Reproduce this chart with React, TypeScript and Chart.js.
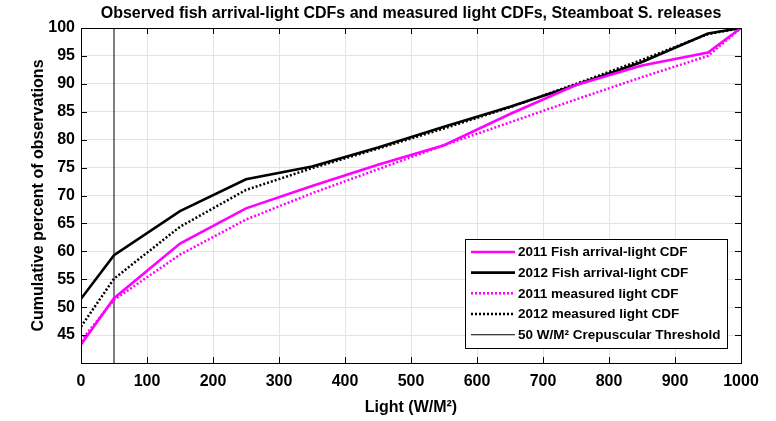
import React, { useEffect, useRef } from 'react';
import { Chart, registerables } from 'chart.js';

Chart.register(...registerables);

// ---- data ----
const lightLevels = [0, 50, 150, 250, 350, 450, 550, 650, 750, 850, 950, 1000];
const fish2011 = [43.3, 51.6, 61.4, 67.7, 71.7, 75.5, 79.0, 84.6, 89.8, 93.3, 95.6, 100];
const fish2012 = [51.5, 59.3, 67.2, 72.9, 75.2, 78.6, 82.3, 85.9, 89.8, 93.9, 99.0, 100];
const measured2011 = [44.0, 51.3, 59.4, 65.7, 70.4, 74.7, 79.0, 83.1, 87.2, 91.2, 95.0, 100];
const measured2012 = [46.5, 55.1, 64.4, 71.0, 74.9, 78.4, 82.0, 85.8, 90.0, 94.3, 98.9, 100];
const thresholdX = [50, 50];
const thresholdY = [40, 100];

const xTicks = [0, 100, 200, 300, 400, 500, 600, 700, 800, 900, 1000];
const yTicks = [40, 45, 50, 55, 60, 65, 70, 75, 80, 85, 90, 95, 100];
const yLabelHidden = [40];

const seriesLabels = [
  '2011 Fish arrival-light CDF',
  '2012 Fish arrival-light CDF',
  '2011 measured light CDF',
  '2012 measured light CDF',
  '50 W/M\u00B2 Crepuscular Threshold',
];
const titleText = 'Observed fish arrival-light CDFs and measured light CDFs, Steamboat S. releases';
const xTitle = 'Light (W/M\u00B2)';
const yTitle = 'Cumulative percent of observations';

const FONT = '"Liberation Sans", Arial, Helvetica, sans-serif';
const MAGENTA = '#ff00ff';

const toPoints = (xs: number[], ys: number[]) => xs.map((x, i) => ({ x, y: ys[i] }));

const framePlugin = {
  id: 'frameTicks',
  afterDatasetsDraw(chart: any) {
    const { ctx, chartArea, scales } = chart;
    const { left, right, top, bottom } = chartArea;
    const tl = 6;
    ctx.save();
    ctx.strokeStyle = '#000';
    ctx.lineWidth = 1;
    ctx.beginPath();
    const xs = scales.x;
    xs.ticks.forEach((t: any) => {
      const p = Math.round(xs.getPixelForValue(t.value)) + 0.5;
      ctx.moveTo(p, bottom);
      ctx.lineTo(p, bottom - tl);
      ctx.moveTo(p, top);
      ctx.lineTo(p, top + tl);
    });
    const ys = scales.y;
    ys.ticks.forEach((t: any) => {
      const p = Math.round(ys.getPixelForValue(t.value)) + 0.5;
      ctx.moveTo(left, p);
      ctx.lineTo(left + tl, p);
      ctx.moveTo(right, p);
      ctx.lineTo(right - tl, p);
    });
    ctx.stroke();
    ctx.strokeRect(Math.round(left) + 0.5, Math.round(top) + 0.5, Math.round(right - left), Math.round(bottom - top));
    ctx.restore();
  },
};

const legendPlugin = {
  id: 'boxLegend',
  afterDraw(chart: any) {
    const { ctx, chartArea } = chart;
    const items = chart.data.datasets;
    ctx.save();
    ctx.font = `bold 13.5px ${FONT}`;
    const lineLen = 44;
    const gap = 3;
    const padX = 6;
    const rowH = 20.7;
    const padY = 2.6;
    const textW = Math.max(...items.map((d: any) => ctx.measureText(d.label).width));
    const boxW = padX + lineLen + gap + textW + padX;
    const boxH = rowH * items.length + padY * 2;
    const right = Math.round(chartArea.right - 14);
    const bottom = Math.round(chartArea.bottom - 15);
    const left = Math.round(right - boxW);
    const top = Math.round(bottom - boxH);
    ctx.fillStyle = '#fff';
    ctx.fillRect(left, top, right - left, bottom - top);
    ctx.strokeStyle = '#000';
    ctx.lineWidth = 1;
    ctx.strokeRect(left + 0.5, top + 0.5, right - left, bottom - top);
    items.forEach((d: any, i: number) => {
      const y = top + padY + rowH * (i + 0.5);
      ctx.beginPath();
      ctx.strokeStyle = d.borderColor;
      ctx.lineWidth = d.borderWidth;
      ctx.setLineDash(d.borderDash || []);
      ctx.moveTo(left + padX, y);
      ctx.lineTo(left + padX + lineLen, y);
      ctx.stroke();
      ctx.setLineDash([]);
      ctx.fillStyle = '#000';
      ctx.textBaseline = 'middle';
      ctx.textAlign = 'left';
      ctx.fillText(d.label, left + padX + lineLen + gap, y + 0.5);
    });
    ctx.restore();
  },
};

export default function App() {
  const canvasRef = useRef<HTMLCanvasElement | null>(null);

  useEffect(() => {
    if (!canvasRef.current) return;
    const solid = { pointRadius: 0, tension: 0, fill: false, borderWidth: 2.6 };
    const dotted = { pointRadius: 0, tension: 0, fill: false, borderWidth: 2.5, borderDash: [2, 2] };
    const chart = new Chart(canvasRef.current, {
      type: 'line',
      data: {
        datasets: [
          { ...solid, label: seriesLabels[0], data: toPoints(lightLevels, fish2011), borderColor: MAGENTA, backgroundColor: MAGENTA },
          { ...solid, label: seriesLabels[1], data: toPoints(lightLevels, fish2012), borderColor: '#000', backgroundColor: '#000' },
          { ...dotted, label: seriesLabels[2], data: toPoints(lightLevels, measured2011), borderColor: MAGENTA, backgroundColor: MAGENTA },
          { ...dotted, label: seriesLabels[3], data: toPoints(lightLevels, measured2012), borderColor: '#000', backgroundColor: '#000' },
          { pointRadius: 0, fill: false, borderWidth: 1, label: seriesLabels[4], data: toPoints(thresholdX, thresholdY), borderColor: '#000', backgroundColor: '#000' },
        ],
      },
      options: {
        responsive: false,
        animation: false,
        layout: { padding: { top: 0, right: 35, bottom: 0, left: 0 } },
        plugins: {
          legend: { display: false },
          tooltip: { enabled: false },
          title: {
            display: true,
            text: titleText,
            fullSize: false,
            color: '#000',
            font: { family: FONT, size: 16, weight: 'bold' },
            padding: { top: 4, bottom: 4.8 },
          },
        },
        scales: {
          x: {
            type: 'linear',
            min: 0,
            max: 1000,
            afterBuildTicks: (s: any) => { s.ticks = xTicks.map((v) => ({ value: v })); },
            afterFit: (s: any) => { s.height = 58; },
            border: { display: false },
            grid: { color: '#e4e4e4', drawTicks: false, lineWidth: 1 },
            ticks: {
              color: '#000',
              padding: 9,
              maxRotation: 0,
              font: { family: FONT, size: 16, weight: 'bold' },
              callback: (v: any) => String(v),
            },
            title: {
              display: true,
              text: xTitle,
              color: '#000',
              font: { family: FONT, size: 16, weight: 'bold' },
              padding: { top: 0, bottom: 3.4 },
            },
          },
          y: {
            type: 'linear',
            min: 40,
            max: 100,
            afterBuildTicks: (s: any) => { s.ticks = yTicks.map((v) => ({ value: v })); },
            afterFit: (s: any) => { s.width = 81; },
            border: { display: false },
            grid: { color: '#e4e4e4', drawTicks: false, lineWidth: 1 },
            ticks: {
              color: '#000',
              padding: 6,
              font: { family: FONT, size: 16, weight: 'bold' },
              callback: (v: any) => (yLabelHidden.includes(Number(v)) ? '' : String(v)),
            },
            title: {
              display: true,
              text: yTitle,
              color: '#000',
              font: { family: FONT, size: 16, weight: 'bold' },
              padding: { top: 28.5, bottom: 0 },
            },
          },
        },
      },
      plugins: [framePlugin, legendPlugin],
    });
    return () => chart.destroy();
  }, []);

  return (
    <div style={{ position: 'fixed', left: 0, top: 0, width: 776, height: 421, background: '#fff' }}>
      <canvas ref={canvasRef} width={776} height={421} style={{ display: 'block' }} />
    </div>
  );
}
